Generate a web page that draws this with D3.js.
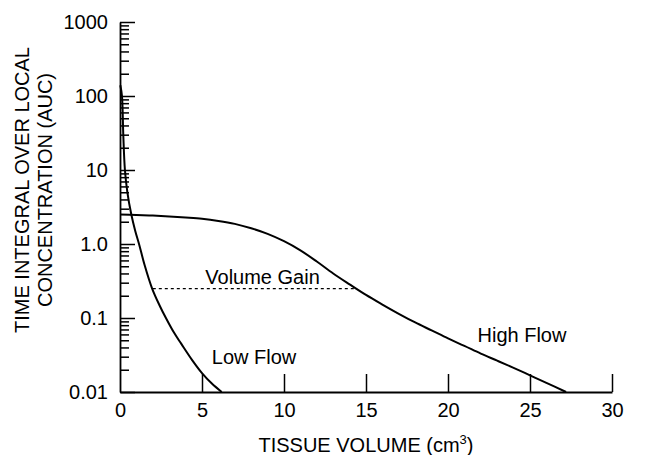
<!DOCTYPE html>
<html>
<head>
<meta charset="utf-8">
<script src="https://cdn.jsdelivr.net/npm/d3@7/dist/d3.min.js"></script>
<style>
  html, body { margin: 0; padding: 0; background: #fff; }
  svg { display: block; }
  text { font-family: "Liberation Sans", Arial, Helvetica, sans-serif; fill: #000; }
</style>
</head>
<body>
<svg id="chart" width="652" height="455"></svg>
<script>
// ---- data ----
const xTickValues = [0, 5, 10, 15, 20, 25, 30];
const yTickValues = [0.01, 0.1, 1, 10, 100, 1000];
const yTickLabels = ["0.01", "0.1", "1.0", "10", "100", "1000"];

const lowFlowX = [0.02, 0.12, 0.2, 0.3, 0.45, 0.69, 0.93, 1.16, 1.5, 1.96, 2.4, 2.8, 3.3, 3.73, 4.4, 5.0, 5.6, 6.2];
const lowFlowY = [140, 100, 30, 10, 5, 2.5, 1.5, 1.0, 0.52, 0.25, 0.15, 0.1, 0.063, 0.045, 0.027, 0.018, 0.013, 0.01];

const highFlowX = [0, 1, 2, 3, 4, 5, 6, 7, 8, 9, 10, 11, 12, 13, 14, 15, 16, 17, 18, 19, 20, 21, 22, 23, 24, 25, 26, 27.2];
const highFlowY = [2.5, 2.47, 2.42, 2.36, 2.28, 2.19, 2.05, 1.87, 1.63, 1.37, 1.09, 0.82, 0.58, 0.4, 0.285, 0.205, 0.152, 0.114, 0.087, 0.068, 0.053, 0.042, 0.033, 0.0265, 0.0212, 0.0168, 0.0133, 0.01];

const volumeGainX = [2.0, 14.4];
const volumeGainY = 0.25;

const labels = [
  { text: "Volume Gain", x: 5.2, y: 0.288 },
  { text: "Low Flow", x: 5.6, y: 0.024 },
  { text: "High Flow", x: 21.8, y: 0.048 }
];

// ---- chart ----
const svg = d3.select("#chart");
const x = d3.scaleLinear().domain([0, 30]).range([120, 612]);
const y = d3.scaleLog().domain([0.01, 1000]).range([392, 22]);

// minor y ticks
const minor = [];
for (let e = -2; e < 3; e++) {
  for (let m = 2; m <= 9; m++) minor.push(m * Math.pow(10, e));
}
const gMinor = svg.append("g")
  .attr("transform", `translate(${x(0)},0)`)
  .call(d3.axisLeft(y).tickValues(minor).tickSizeInner(-9).tickSizeOuter(0).tickFormat(""));
gMinor.select(".domain").remove();
gMinor.selectAll("line").attr("stroke", "#000").attr("stroke-width", 1.5);

// major y axis
const gy = svg.append("g")
  .attr("transform", `translate(${x(0)},0)`)
  .call(d3.axisLeft(y).tickValues(yTickValues).tickSizeInner(-15).tickSizeOuter(0).tickPadding(12)
    .tickFormat((d, i) => yTickLabels[i]));
gy.select(".domain").attr("stroke", "#000").attr("stroke-width", 1.8);
gy.selectAll("line").attr("stroke", "#000").attr("stroke-width", 1.5);
gy.selectAll("text").style("font-size", "20px");

// x axis
const gx = svg.append("g")
  .attr("transform", `translate(0,${y(0.01)})`)
  .call(d3.axisBottom(x).tickValues(xTickValues).tickSizeInner(-18).tickSizeOuter(0).tickPadding(11));
gx.select(".domain").attr("stroke", "#000").attr("stroke-width", 1.8);
gx.selectAll("line").attr("stroke", "#000").attr("stroke-width", 1.5);
gx.selectAll(".tick").filter(d => d === 0).select("line").remove();
gx.selectAll("text").style("font-size", "20px");
svg.selectAll(".tick text").attr("fill", "#000");

// curves
const line = d3.line().x(d => x(d[0])).y(d => y(d[1])).curve(d3.curveCatmullRom.alpha(0.5));
svg.append("path")
  .datum(lowFlowX.map((v, i) => [v, lowFlowY[i]]))
  .attr("d", line).attr("fill", "none").attr("stroke", "#000").attr("stroke-width", 2);
svg.append("path")
  .datum(highFlowX.map((v, i) => [v, highFlowY[i]]))
  .attr("d", line).attr("fill", "none").attr("stroke", "#000").attr("stroke-width", 2);

// volume gain dotted line
svg.append("line")
  .attr("x1", x(volumeGainX[0])).attr("x2", x(volumeGainX[1]))
  .attr("y1", y(volumeGainY)).attr("y2", y(volumeGainY))
  .attr("stroke", "#000").attr("stroke-width", 1.2).attr("stroke-dasharray", "3,3");

// labels
svg.selectAll(".lbl").data(labels).enter().append("text")
  .attr("class", "lbl")
  .attr("x", d => x(d.x)).attr("y", d => y(d.y))
  .style("font-size", "20px")
  .text(d => d.text);

// axis titles
const xt = svg.append("text")
  .attr("x", (x(0) + x(30)) / 2).attr("y", 452)
  .attr("text-anchor", "middle").style("font-size", "20px");
xt.append("tspan").text("TISSUE VOLUME (cm");
xt.append("tspan").attr("dy", -8).style("font-size", "13px").text("3");
xt.append("tspan").attr("dy", 8).text(")");

const yt = svg.append("text")
  .attr("transform", "translate(0,190) rotate(-90)")
  .attr("text-anchor", "middle").style("font-size", "20px");
yt.append("tspan").attr("x", 0).attr("y", 29).text("TIME INTEGRAL OVER LOCAL");
yt.append("tspan").attr("x", 0).attr("y", 52).text("CONCENTRATION (AUC)");
</script>
</body>
</html>
